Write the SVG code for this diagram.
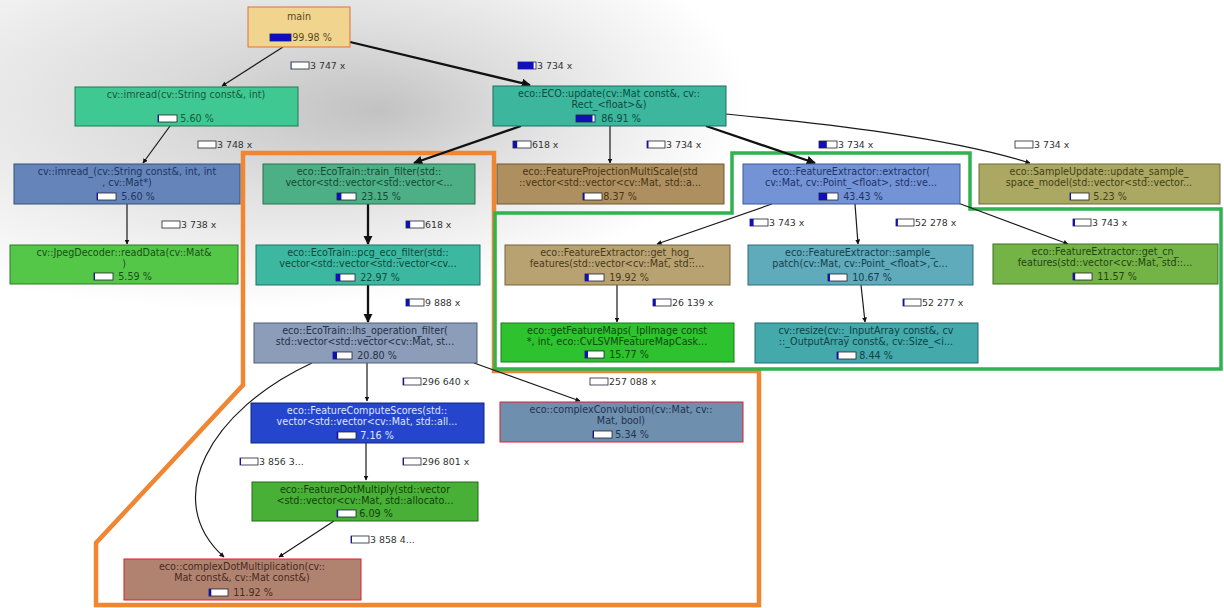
<svg xmlns="http://www.w3.org/2000/svg" width="1224" height="608" viewBox="0 0 1224 608">
<defs>
<radialGradient id="bg" gradientUnits="userSpaceOnUse" cx="0" cy="0" r="1" fx="0.29" fy="0.05" gradientTransform="translate(230 100) scale(520 210)">
<stop offset="0" stop-color="#c2c2c2"/>
<stop offset="0.35" stop-color="#dcdcdc"/>
<stop offset="0.7" stop-color="#f0f0f0"/>
<stop offset="1" stop-color="#ffffff"/>
</radialGradient>
<marker id="ah" viewBox="0 0 10 10" refX="9" refY="5" markerWidth="5" markerHeight="5" markerUnits="userSpaceOnUse" orient="auto">
<path d="M0,0 L10,5 L0,10 z" fill="#111"/>
</marker>
<marker id="ahb" viewBox="0 0 10 10" refX="9" refY="5" markerWidth="4" markerHeight="4" orient="auto">
<path d="M0,0 L10,5 L0,10 z" fill="#111"/>
</marker>
<style>
text{font-family:"DejaVu Sans","Liberation Sans",sans-serif;font-size:9.6px;text-anchor:middle}
.lbl{text-anchor:start;fill:#333;font-size:9.4px}
.bo{fill:#fff;stroke:#223;stroke-width:0.8}
.bf{fill:#1010b8}
.e{fill:none;stroke:#1a1a1a;stroke-width:1.2}
.et{fill:none;stroke:#111;stroke-width:2.3}
.n rect.box{stroke-width:1}
</style>
</defs>
<rect width="1224" height="608" fill="#fff"/>
<rect width="1224" height="608" fill="url(#bg)"/>

<!-- region outlines -->
<g id="regions" fill="none" stroke-linejoin="miter">
<path d="M243,153 L494,153 L494,371 L759,371 L759,605 L96,605 L96,543 L243,385 Z" stroke="#f08532" stroke-width="4.5"/>
<path d="M732,153 L970,153 L970,209 L1221,209 L1221,369 L495,369 L495,213 L732,213 Z" stroke="#2fb34f" stroke-width="3.5"/>
</g>

<g id="connectors">
<path class="e" d="M283,47 L222,86" marker-end="url(#ah)"/>
<path class="et" d="M350,42 L530,85" marker-end="url(#ahb)"/>
<path class="e" d="M170,126 L143,163" marker-end="url(#ah)"/>
<path class="e" d="M127,204 L127,244" marker-end="url(#ah)"/>
<path class="et" d="M521,126 L414,163" marker-end="url(#ahb)"/>
<path class="e" d="M610,126 L610,163" marker-end="url(#ah)"/>
<path class="et" d="M706,126 L815,163" marker-end="url(#ahb)"/>
<path class="e" d="M726,114 C830,124 950,138 1030,163" marker-end="url(#ah)"/>
<path class="et" d="M368,204 L368,244" marker-end="url(#ahb)"/>
<path class="e" d="M772,204 L657,244" marker-end="url(#ah)"/>
<path class="e" d="M855,204 L858,244" marker-end="url(#ah)"/>
<path class="e" d="M958,203 L1068,244" marker-end="url(#ah)"/>
<path class="et" d="M368,285 L368,322" marker-end="url(#ahb)"/>
<path class="e" d="M617,285 L617,322" marker-end="url(#ah)"/>
<path class="e" d="M861,285 L865,322" marker-end="url(#ah)"/>
<path class="e" d="M367,363 L367,401" marker-end="url(#ah)"/>
<path class="e" d="M474,363 L580,401" marker-end="url(#ah)"/>
<path class="e" d="M312,363 C210,410 160,500 224,557" marker-end="url(#ah)"/>
<path class="e" d="M366,443 L366,480" marker-end="url(#ah)"/>
<path class="e" d="M334,521 L279,557" marker-end="url(#ah)"/>
</g>

<g id="edge-labels">
<rect class="bo" x="291" y="62" width="18" height="7"/><rect class="bf" x="291" y="62" width="0.3" height="7"/><text class="lbl" x="310" y="69">3 747 x</text>
<rect class="bo" x="518" y="62" width="18" height="7"/><rect class="bf" x="518" y="62" width="15.6" height="7"/><text class="lbl" x="537" y="69">3 734 x</text>
<rect class="bo" x="198" y="141" width="18" height="7"/><text class="lbl" x="217" y="148">3 748 x</text>
<rect class="bo" x="513" y="141" width="18" height="7"/><rect class="bf" x="513" y="141" width="4.2" height="7"/><text class="lbl" x="532" y="148">618 x</text>
<rect class="bo" x="647" y="141" width="18" height="7"/><rect class="bf" x="647" y="141" width="1.5" height="7"/><text class="lbl" x="666" y="148">3 734 x</text>
<rect class="bo" x="819" y="141" width="18" height="7"/><rect class="bf" x="819" y="141" width="7.8" height="7"/><text class="lbl" x="838" y="148">3 734 x</text>
<rect class="bo" x="1015" y="141" width="18" height="7"/><text class="lbl" x="1034" y="148">3 734 x</text>
<rect class="bo" x="162" y="221" width="18" height="7"/><text class="lbl" x="181" y="228">3 738 x</text>
<rect class="bo" x="406" y="221" width="18" height="7"/><rect class="bf" x="406" y="221" width="4.2" height="7"/><text class="lbl" x="425" y="228">618 x</text>
<rect class="bo" x="750" y="219" width="18" height="7"/><rect class="bf" x="750" y="219" width="3.6" height="7"/><text class="lbl" x="769" y="226">3 743 x</text>
<rect class="bo" x="896" y="219" width="18" height="7"/><rect class="bf" x="896" y="219" width="1.9" height="7"/><text class="lbl" x="915" y="226">52 278 x</text>
<rect class="bo" x="1073" y="219" width="18" height="7"/><rect class="bf" x="1073" y="219" width="2" height="7"/><text class="lbl" x="1092" y="226">3 743 x</text>
<rect class="bo" x="406" y="299" width="18" height="7"/><rect class="bf" x="406" y="299" width="3.7" height="7"/><text class="lbl" x="425" y="306">9 888 x</text>
<rect class="bo" x="653" y="299" width="18" height="7"/><rect class="bf" x="653" y="299" width="2.8" height="7"/><text class="lbl" x="672" y="306">26 139 x</text>
<rect class="bo" x="903" y="299" width="18" height="7"/><rect class="bf" x="903" y="299" width="1.5" height="7"/><text class="lbl" x="922" y="306">52 277 x</text>
<rect class="bo" x="403" y="378" width="18" height="7"/><rect class="bf" x="403" y="378" width="1.2" height="7"/><text class="lbl" x="422" y="385">296 640 x</text>
<rect class="bo" x="590" y="378" width="18" height="7"/><text class="lbl" x="609" y="385">257 088 x</text>
<rect class="bo" x="240" y="458" width="18" height="7"/><rect class="bf" x="240" y="458" width="1" height="7"/><text class="lbl" x="259" y="465">3 856 3...</text>
<rect class="bo" x="403" y="458" width="18" height="7"/><rect class="bf" x="403" y="458" width="1" height="7"/><text class="lbl" x="422" y="465">296 801 x</text>
<rect class="bo" x="351" y="536" width="18" height="7"/><rect class="bf" x="351" y="536" width="1" height="7"/><text class="lbl" x="370" y="543">3 858 4...</text>
</g>

<g id="main" class="n">
<rect class="box" x="248" y="7" width="102" height="40" fill="#f1d48e" stroke="#e0703c" stroke-width="2"/>
<text x="299" y="20" fill="#5a4a20">main</text>
<rect class="bo" x="270" y="34" width="21" height="7"/><rect class="bf" x="270" y="34" width="21" height="7"/>
<text x="312" y="41" fill="#5a4a20">99.98 %</text>
</g>

<g id="cv_imread" class="n">
<rect class="box" x="75" y="87" width="223" height="39" fill="#3fc892" stroke="#1f7a58"/>
<text x="186" y="98" fill="#145a40">cv::imread(cv::String const&amp;, int)</text>
<rect class="bo" x="158" y="115" width="19" height="7"/><rect class="bf" x="158" y="115" width="1" height="7"/>
<text x="197" y="122" fill="#145a40">5.60 %</text>
</g>

<g id="eco_update" class="n">
<rect class="box" x="493" y="86" width="233" height="40" fill="#3db69e" stroke="#1f6f60"/>
<text x="609" y="97" fill="#0f4a3e">eco::ECO::update(cv::Mat const&amp;, cv::</text>
<text x="609" y="108" fill="#0f4a3e">Rect_&lt;float&gt;&amp;)</text>
<rect class="bo" x="576" y="115" width="19" height="7"/><rect class="bf" x="576" y="115" width="16.5" height="7"/>
<text x="621" y="122" fill="#0f4a3e">86.91 %</text>
</g>

<g id="cv_imread_" class="n">
<rect class="box" x="14" y="164" width="226" height="40" fill="#6585ba" stroke="#34507a"/>
<text x="127" y="175" fill="#1d3460">cv::imread_(cv::String const&amp;, int, int</text>
<text x="127" y="186" fill="#1d3460">, cv::Mat*)</text>
<rect class="bo" x="97" y="193" width="19" height="7"/><rect class="bf" x="97" y="193" width="1" height="7"/>
<text x="138" y="200" fill="#1d3460">5.60 %</text>
</g>

<g id="train_filter" class="n">
<rect class="box" x="263" y="164" width="212" height="40" fill="#4daf85" stroke="#2a7050"/>
<text x="369" y="175" fill="#154a33">eco::EcoTrain::train_filter(std::</text>
<text x="369" y="186" fill="#154a33">vector&lt;std::vector&lt;std::vector&lt;...</text>
<rect class="bo" x="337" y="193" width="19" height="7"/><rect class="bf" x="337" y="193" width="4.4" height="7"/>
<text x="381" y="200" fill="#154a33">23.15 %</text>
</g>

<g id="feat_proj" class="n">
<rect class="box" x="497" y="164" width="227" height="40" fill="#ae8f5f" stroke="#6f5830"/>
<text x="610" y="175" fill="#4a3515">eco::FeatureProjectionMultiScale(std</text>
<text x="610" y="186" fill="#4a3515">::vector&lt;std::vector&lt;cv::Mat, std::a...</text>
<rect class="bo" x="583" y="193" width="19" height="7"/><rect class="bf" x="583" y="193" width="1.6" height="7"/>
<text x="620" y="200" fill="#4a3515">8.37 %</text>
</g>

<g id="extractor" class="n">
<rect class="box" x="743" y="164" width="217" height="40" fill="#7493d6" stroke="#3c5a9a"/>
<text x="851" y="175" fill="#1d3468">eco::FeatureExtractor::extractor(</text>
<text x="851" y="186" fill="#1d3468">cv::Mat, cv::Point_&lt;float&gt;, std::ve...</text>
<rect class="bo" x="819" y="193" width="19" height="7"/><rect class="bf" x="819" y="193" width="8.2" height="7"/>
<text x="863" y="200" fill="#1d3468">43.43 %</text>
</g>

<g id="sample_update" class="n">
<rect class="box" x="979" y="164" width="241" height="40" fill="#aba864" stroke="#6d6b35"/>
<text x="1099" y="175" fill="#434115">eco::SampleUpdate::update_sample_</text>
<text x="1099" y="186" fill="#434115">space_model(std::vector&lt;std::vector...</text>
<rect class="bo" x="1070" y="193" width="19" height="7"/><rect class="bf" x="1070" y="193" width="1" height="7"/>
<text x="1110" y="200" fill="#434115">5.23 %</text>
</g>

<g id="jpeg_decoder" class="n">
<rect class="box" x="10" y="245" width="228" height="39" fill="#55c748" stroke="#2d7d25"/>
<text x="124" y="256" fill="#17501a">cv::JpegDecoder::readData(cv::Mat&amp;</text>
<text x="124" y="267" fill="#17501a">)</text>
<rect class="bo" x="94" y="273" width="19" height="7"/><rect class="bf" x="94" y="273" width="1" height="7"/>
<text x="135" y="280" fill="#17501a">5.59 %</text>
</g>

<g id="pcg_eco_filter" class="n">
<rect class="box" x="256" y="245" width="224" height="40" fill="#3db8a0" stroke="#1f7060"/>
<text x="368" y="256" fill="#0f4a3e">eco::EcoTrain::pcg_eco_filter(std::</text>
<text x="368" y="267" fill="#0f4a3e">vector&lt;std::vector&lt;std::vector&lt;cv...</text>
<rect class="bo" x="336" y="274" width="19" height="7"/><rect class="bf" x="336" y="274" width="4.4" height="7"/>
<text x="380" y="281" fill="#0f4a3e">22.97 %</text>
</g>

<g id="get_hog" class="n">
<rect class="box" x="505" y="245" width="225" height="40" fill="#b8a272" stroke="#766238"/>
<text x="617" y="256" fill="#4a3a18">eco::FeatureExtractor::get_hog_</text>
<text x="617" y="267" fill="#4a3a18">features(std::vector&lt;cv::Mat, std::...</text>
<rect class="bo" x="585" y="274" width="19" height="7"/><rect class="bf" x="585" y="274" width="3.8" height="7"/>
<text x="629" y="281" fill="#4a3a18">19.92 %</text>
</g>

<g id="sample_patch" class="n">
<rect class="box" x="748" y="245" width="225" height="40" fill="#5faabb" stroke="#2f6c7a"/>
<text x="860" y="256" fill="#163f4a">eco::FeatureExtractor::sample_</text>
<text x="860" y="267" fill="#163f4a">patch(cv::Mat, cv::Point_&lt;float&gt;, c...</text>
<rect class="bo" x="828" y="274" width="19" height="7"/><rect class="bf" x="828" y="274" width="2" height="7"/>
<text x="872" y="281" fill="#163f4a">10.67 %</text>
</g>

<g id="get_cn" class="n">
<rect class="box" x="993" y="244" width="225" height="40" fill="#74b446" stroke="#3f6f20"/>
<text x="1105" y="255" fill="#254510">eco::FeatureExtractor::get_cn_</text>
<text x="1105" y="266" fill="#254510">features(std::vector&lt;cv::Mat, std::...</text>
<rect class="bo" x="1073" y="273" width="19" height="7"/><rect class="bf" x="1073" y="273" width="2.2" height="7"/>
<text x="1117" y="280" fill="#254510">11.57 %</text>
</g>

<g id="lhs_operation_filter" class="n">
<rect class="box" x="254" y="323" width="223" height="40" fill="#8b9db8" stroke="#4f5f7a"/>
<text x="365" y="334" fill="#24324a">eco::EcoTrain::lhs_operation_filter(</text>
<text x="365" y="345" fill="#24324a">std::vector&lt;std::vector&lt;cv::Mat, st...</text>
<rect class="bo" x="333" y="352" width="19" height="7"/><rect class="bf" x="333" y="352" width="4" height="7"/>
<text x="377" y="359" fill="#24324a">20.80 %</text>
</g>

<g id="get_feature_maps" class="n">
<rect class="box" x="501" y="323" width="233" height="39" fill="#2ec22e" stroke="#1a7a1a"/>
<text x="617" y="334" fill="#0d4a0d">eco::getFeatureMaps(_IplImage const</text>
<text x="617" y="345" fill="#0d4a0d">*, int, eco::CvLSVMFeatureMapCask...</text>
<rect class="bo" x="585" y="351" width="19" height="7"/><rect class="bf" x="585" y="351" width="3" height="7"/>
<text x="629" y="358" fill="#0d4a0d">15.77 %</text>
</g>

<g id="cv_resize" class="n">
<rect class="box" x="755" y="323" width="223" height="40" fill="#43a9aa" stroke="#216b6c"/>
<text x="866" y="334" fill="#0f4344">cv::resize(cv::_InputArray const&amp;, cv</text>
<text x="866" y="345" fill="#0f4344">::_OutputArray const&amp;, cv::Size_&lt;i...</text>
<rect class="bo" x="837" y="352" width="19" height="7"/><rect class="bf" x="837" y="352" width="1.6" height="7"/>
<text x="876" y="359" fill="#0f4344">8.44 %</text>
</g>

<g id="compute_scores" class="n">
<rect class="box" x="251" y="403" width="233" height="40" fill="#2445cc" stroke="#102880"/>
<text x="367" y="414" fill="#dfe6ff">eco::FeatureComputeScores(std::</text>
<text x="367" y="425" fill="#dfe6ff">vector&lt;std::vector&lt;cv::Mat, std::all...</text>
<rect class="bo" x="337" y="432" width="19" height="7"/><rect class="bf" x="337" y="432" width="1.3" height="7"/>
<text x="377" y="439" fill="#dfe6ff">7.16 %</text>
</g>

<g id="complex_convolution" class="n">
<rect class="box" x="500" y="402" width="243" height="40" fill="#6f8fae" stroke="#e0202c" stroke-width="2"/>
<text x="621" y="413" fill="#1f3350">eco::complexConvolution(cv::Mat, cv::</text>
<text x="621" y="424" fill="#1f3350">Mat, bool)</text>
<rect class="bo" x="593" y="431" width="19" height="7"/><rect class="bf" x="593" y="431" width="1" height="7"/>
<text x="632" y="438" fill="#1f3350">5.34 %</text>
</g>

<g id="dot_multiply" class="n">
<rect class="box" x="252" y="482" width="226" height="39" fill="#48b036" stroke="#256a18"/>
<text x="365" y="493" fill="#153f0c">eco::FeatureDotMultiply(std::vector</text>
<text x="365" y="504" fill="#153f0c">&lt;std::vector&lt;cv::Mat, std::allocato...</text>
<rect class="bo" x="337" y="510" width="19" height="7"/><rect class="bf" x="337" y="510" width="1.2" height="7"/>
<text x="376" y="517" fill="#153f0c">6.09 %</text>
</g>

<g id="complex_dot_multiplication" class="n">
<rect class="box" x="124" y="559" width="237" height="41" fill="#b08270" stroke="#e0202c" stroke-width="2"/>
<text x="242" y="570" fill="#4a2a20">eco::complexDotMultiplication(cv::</text>
<text x="242" y="581" fill="#4a2a20">Mat const&amp;, cv::Mat const&amp;)</text>
<rect class="bo" x="209" y="589" width="19" height="7"/><rect class="bf" x="209" y="589" width="2.3" height="7"/>
<text x="253" y="596" fill="#4a2a20">11.92 %</text>
</g>
</svg>
